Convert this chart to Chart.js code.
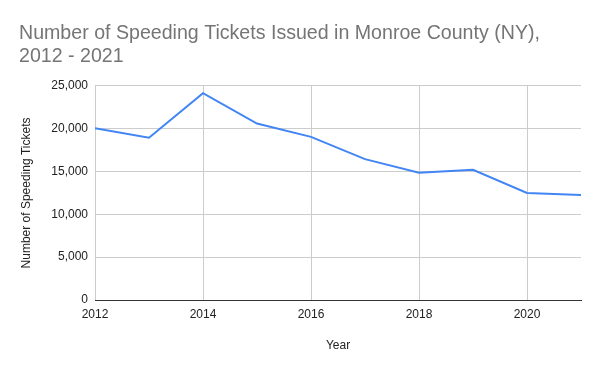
<!DOCTYPE html>
<html>
<head>
<meta charset="utf-8">
<script src="https://cdn.jsdelivr.net/npm/chart.js@4"></script>
<style>
  html, body { margin: 0; padding: 0; background: #fff; }
  #wrap { width: 600px; height: 371px; }
</style>
</head>
<body>
<div id="wrap"><canvas id="myChart" width="600" height="371"></canvas></div>
<script>
let years = [2012, 2013, 2014, 2015, 2016, 2017, 2018, 2019, 2020, 2021];
let tickets = [20050, 18950, 24150, 20600, 19050, 16450, 14850, 15200, 12500, 12250];
let xTicks = [2012, 2014, 2016, 2018, 2020];
let yTicks = [0, 5000, 10000, 15000, 20000, 25000];

let font = "'Liberation Sans', Arial, sans-serif";

let ctx = document.getElementById("myChart").getContext('2d');

let chart = new Chart(ctx, {
    type: 'line',
    data: {
        datasets: [{
            data: years.map((y, i) => ({ x: y, y: tickets[i] })),
            borderColor: '#4285F4',
            borderWidth: 2,
            pointRadius: 0,
            tension: 0,
            fill: false
        }]
    },
    options: {
        responsive: false,
        animation: false,
        layout: {
            padding: { left: 19, right: 19, top: 20, bottom: 0 }
        },
        plugins: {
            legend: { display: false },
            tooltip: { enabled: false },
            title: {
                display: true,
                text: ['Number of Speeding Tickets Issued in Monroe County (NY),', '2012 - 2021'],
                align: 'start',
                color: '#757575',
                font: { family: font, size: 19.6, weight: 'normal', lineHeight: 1.17 },
                padding: { top: 2, bottom: 18 }
            }
        },
        scales: {
            x: {
                type: 'linear',
                min: 2012,
                max: 2021,
                afterBuildTicks: (scale) => {
                    scale.ticks = xTicks.map(v => ({ value: v }));
                },
                afterFit: (scale) => { scale.height = 71; },
                ticks: {
                    color: '#222',
                    font: { family: font, size: 12 },
                    padding: 7,
                    maxRotation: 0,
                    callback: (v) => String(v)
                },
                grid: { color: '#cccccc', drawTicks: false },
                border: { display: true, color: '#333333', width: 1 },
                title: {
                    display: true,
                    text: 'Year',
                    color: '#222',
                    font: { family: font, size: 12 },
                    padding: { top: 17, bottom: 18 }
                }
            },
            y: {
                min: 0,
                max: 25000,
                afterBuildTicks: (scale) => {
                    scale.ticks = yTicks.map(v => ({ value: v }));
                },
                afterFit: (scale) => { scale.width = 76; },
                ticks: {
                    color: '#222',
                    font: { family: font, size: 12 },
                    padding: 7,
                    callback: (v) => v.toLocaleString('en-US')
                },
                grid: { color: '#cccccc', drawTicks: false },
                border: { display: false },
                title: {
                    display: true,
                    text: 'Number of Speeding Tickets',
                    color: '#222',
                    font: { family: font, size: 12 },
                    padding: { top: 0, bottom: 6 }
                }
            }
        }
    }
});
</script>
</body>
</html>
